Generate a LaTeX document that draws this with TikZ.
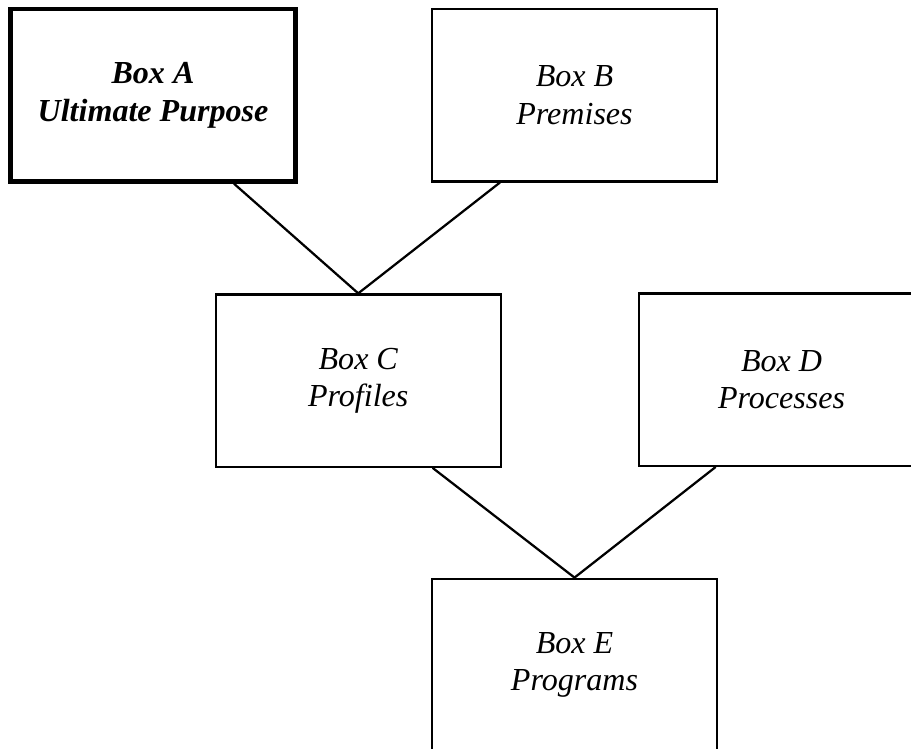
\documentclass[tikz,border=0pt]{standalone}
\usepackage{fontspec}
\setmainfont{Liberation Serif}
\usepackage{tikz}
\usetikzlibrary{calc,positioning}

\begin{document}
\begin{tikzpicture}[x=0.025cm,y=-0.025cm,line cap=round,
    box/.style={draw,line width=1.6pt,minimum width=7.125cm,minimum height=4.3125cm,
        inner sep=0pt,align=center,font=\fontsize{22.8}{26.7}\selectfont\itshape},
    mainbox/.style={box,line width=3.2pt,font=\fontsize{22.8}{26.7}\selectfont\bfseries\itshape},
    link/.style={line width=1.6pt}]

            % --- Frame ---
            \clip (0,0) rectangle (911,748);

            % Top row
            \node[mainbox] (boxA) at (153,95.25) {Box A\\Ultimate Purpose};
            \node[box] (boxB) at (574.5,95.25) {Box B\\Premises};

            % Middle row
            \node[box] (boxC) at (358.25,380.75) {Box C\\Profiles};
            \node[box] (boxD) at (781.5,379.75) {Box D\\Processes};

            % Bottom row
            \node[box] (boxE) at (574.5,665) {Box E\\Programs};

            % Links into Box C
            \draw[link] ($(boxA.south west)!0.78!(boxA.south east)$) -- (boxC.north);
            \draw[link] ($(boxB.south west)!0.24!(boxB.south east)$) -- (boxC.north);

            % Links into Box E
            \draw[link] ($(boxC.south west)!0.76!(boxC.south east)$) -- (boxE.north);
            \draw[link] ($(boxD.south west)!0.27!(boxD.south east)$) -- (boxE.north);

        \end{tikzpicture}
\end{document}
